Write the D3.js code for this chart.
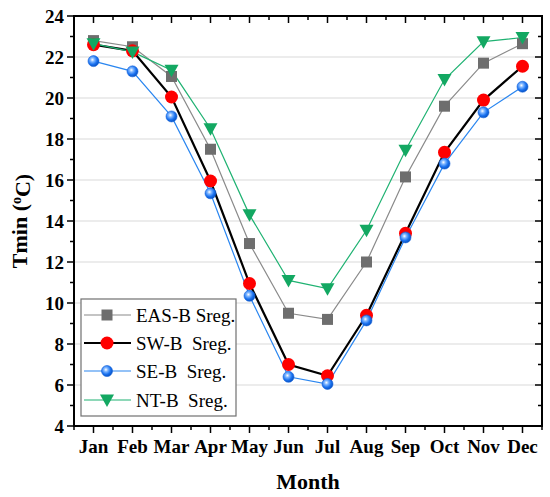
<!DOCTYPE html>
<html>
<head>
<meta charset="utf-8">
<script src="https://cdn.jsdelivr.net/npm/d3@7"></script>
<style>
  body { margin: 0; background: #fff; }
  text { font-family: "Liberation Serif", "DejaVu Serif", serif; font-weight: bold; }
</style>
</head>
<body>
<div class="chart"></div>
<script>
var months = ["Jan","Feb","Mar","Apr","May","Jun","Jul","Aug","Sep","Oct","Nov","Dec"];
var easB = [22.8, 22.5, 21.05, 17.5, 12.9, 9.5, 9.2, 12.0, 16.15, 19.6, 21.7, 22.65];
var swB  = [22.6, 22.3, 20.05, 15.95, 10.95, 7.0, 6.45, 9.4, 13.4, 17.35, 19.9, 21.55];
var seB  = [21.8, 21.3, 19.1, 15.35, 10.35, 6.4, 6.05, 9.15, 13.2, 16.8, 19.3, 20.55];
var ntB  = [22.65, 22.25, 21.35, 18.5, 14.3, 11.1, 10.7, 13.55, 17.45, 20.9, 22.75, 22.95];
var yTicks = [4, 6, 8, 10, 12, 14, 16, 18, 20, 22, 24];
var seriesNames = ["EAS-B Sreg.", "SW-B  Sreg.", "SE-B  Sreg.", "NT-B  Sreg."];

(function(){
var width = 550, height = 497;
var pLeft = 74, pRight = 542, pTop = 16, pBottom = 426;

var svg = d3.select(".chart").append("svg")
    .attr("width", width)
    .attr("height", height);

var defs = svg.append("defs");
var grad = defs.append("radialGradient")
    .attr("id", "ball")
    .attr("cx", "40%").attr("cy", "38%").attr("r", "60%");
grad.append("stop").attr("offset", "0%").attr("stop-color", "#ffffff");
grad.append("stop").attr("offset", "30%").attr("stop-color", "#7fb6ff");
grad.append("stop").attr("offset", "70%").attr("stop-color", "#1a72f0");
grad.append("stop").attr("offset", "100%").attr("stop-color", "#0b56c8");

var x = d3.scalePoint().domain(months).range([pLeft, pRight]).padding(0.5);
var step = x.step();
var y = d3.scaleLinear().domain([4, 24]).range([pBottom, pTop]);

// grid
svg.append("g").selectAll("line")
    .data(yTicks.slice(1, -1))
    .enter().append("line")
    .attr("x1", pLeft).attr("x2", pRight)
    .attr("y1", function(d){ return y(d); })
    .attr("y2", function(d){ return y(d); })
    .style("stroke", "#d9d9d9")
    .style("stroke-width", "1px");

// minor positions
var minorX = [];
months.forEach(function(m){ minorX.push(x(m) - step/2); });
minorX.push(x(months[months.length-1]) + step/2);
var minorY = [];
for (var v = 5; v < 24; v += 2) minorY.push(v);

var frame = svg.append("g").style("stroke", "#000").style("stroke-width", "1.5px");

function vTicks(cls, data, fx, y1, y2) {
  frame.selectAll("." + cls).data(data).enter().append("line")
    .attr("class", cls)
    .attr("x1", fx).attr("x2", fx)
    .attr("y1", y1).attr("y2", y2);
}
function hTicks(cls, data, x1, x2) {
  frame.selectAll("." + cls).data(data).enter().append("line")
    .attr("class", cls)
    .attr("y1", function(d){ return y(d); }).attr("y2", function(d){ return y(d); })
    .attr("x1", x1).attr("x2", x2);
}
vTicks("bt", months, function(d){ return x(d); }, pBottom, pBottom + 7);
vTicks("bm", minorX, function(d){ return d; }, pBottom, pBottom + 4);
vTicks("tt", months, function(d){ return x(d); }, pTop, pTop + 7);
vTicks("tm", minorX, function(d){ return d; }, pTop, pTop + 4);
hTicks("lt", yTicks, pLeft - 7, pLeft);
hTicks("lm", minorY, pLeft - 4, pLeft);
hTicks("rt", yTicks, pRight - 7, pRight);
hTicks("rm", minorY, pRight - 4, pRight);

svg.append("rect")
    .attr("x", pLeft).attr("y", pTop)
    .attr("width", pRight - pLeft).attr("height", pBottom - pTop)
    .style("fill", "none").style("stroke", "#000").style("stroke-width", "2px");

// tick labels
svg.append("g").selectAll("text").data(yTicks).enter().append("text")
    .attr("x", pLeft - 10)
    .attr("y", function(d){ return y(d); })
    .attr("dy", "0.35em")
    .attr("text-anchor", "end")
    .style("font-size", "19px")
    .text(function(d){ return d; });

svg.append("g").selectAll("text").data(months).enter().append("text")
    .attr("x", function(d){ return x(d); })
    .attr("y", 453)
    .attr("text-anchor", "middle")
    .style("font-size", "19px")
    .text(function(d){ return d; });

svg.append("text")
    .attr("x", (pLeft + pRight) / 2)
    .attr("y", 489)
    .attr("text-anchor", "middle")
    .style("font-size", "22px")
    .text("Month");

var yt = svg.append("text")
    .attr("transform", "translate(27," + ((pTop + pBottom) / 2) + ") rotate(-90)")
    .attr("text-anchor", "middle")
    .style("font-size", "22px");
yt.append("tspan").text("Tmin (");
yt.append("tspan").attr("dy", "-0.4em").style("font-size", "14px").text("o");
yt.append("tspan").attr("dy", "0.4em").text("C)");

// series
var series = [
  { name: seriesNames[0], values: easB, line: "#8a8a8a", lw: 1.2, marker: "square" },
  { name: seriesNames[1], values: swB,  line: "#000000", lw: 2.2, marker: "circle" },
  { name: seriesNames[2], values: seB,  line: "#2a86f0", lw: 1.2, marker: "ball" },
  { name: seriesNames[3], values: ntB,  line: "#1fb272", lw: 1.2, marker: "tri" }
];

var lineGen = d3.line()
    .x(function(d, i){ return x(months[i]); })
    .y(function(d){ return y(d); });

function drawMarker(g, type, cx, cy) {
  if (type === "square") {
    g.append("rect").attr("x", cx - 5.5).attr("y", cy - 5.5)
      .attr("width", 11).attr("height", 11).style("fill", "#6e6e6e");
  } else if (type === "circle") {
    g.append("circle").attr("cx", cx).attr("cy", cy).attr("r", 6.5).style("fill", "#ff0000");
  } else if (type === "ball") {
    g.append("circle").attr("cx", cx).attr("cy", cy).attr("r", 5.5)
      .style("fill", "url(#ball)").style("stroke", "#1060d8").style("stroke-width", "0.6px");
  } else {
    g.append("path")
      .attr("d", "M" + (cx - 7) + "," + (cy - 5.5) + "L" + (cx + 7) + "," + (cy - 5.5) + "L" + cx + "," + (cy + 7) + "Z")
      .style("fill", "#13a862");
  }
}

series.forEach(function(s){
  svg.append("path")
    .datum(s.values)
    .attr("d", lineGen)
    .style("fill", "none")
    .style("stroke", s.line)
    .style("stroke-width", s.lw + "px");
});
series.forEach(function(s){
  var g = svg.append("g");
  s.values.forEach(function(v, i){ drawMarker(g, s.marker, x(months[i]), y(v)); });
});

// legend
var legend = svg.append("g");
legend.append("rect")
    .attr("x", 81).attr("y", 299)
    .attr("width", 155).attr("height", 117)
    .style("fill", "#fff").style("stroke", "#707070").style("stroke-width", "1.2px");
var legY = [315, 343, 371, 400];
series.forEach(function(s, i){
  legend.append("line")
    .attr("x1", 84).attr("x2", 131)
    .attr("y1", legY[i]).attr("y2", legY[i])
    .style("stroke", s.line).style("stroke-width", s.lw + "px");
  drawMarker(legend, s.marker, 107, legY[i]);
  legend.append("text")
    .attr("x", 136).attr("y", legY[i])
    .attr("dy", "0.35em")
    .style("font-size", "19px")
    .style("font-weight", "normal")
    .style("white-space", "pre")
    .text(s.name);
});
})();
</script>
</body>
</html>
